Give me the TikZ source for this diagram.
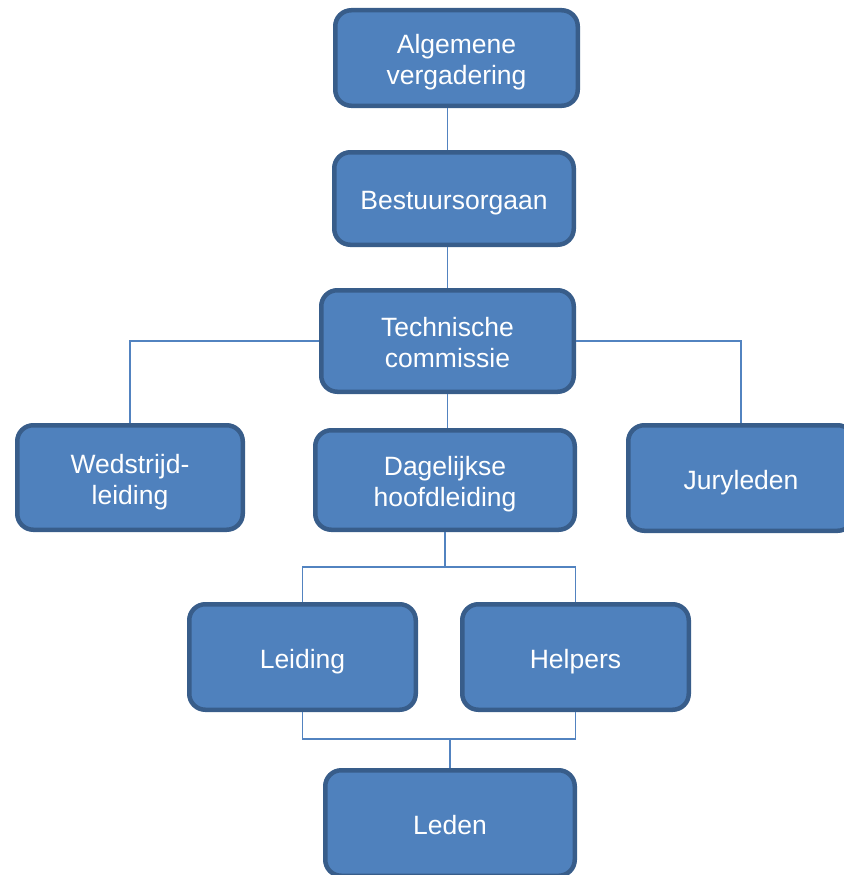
\documentclass[tikz,border=0pt]{standalone}
\usepackage{fontspec}
\setmainfont{Liberation Sans}
\definecolor{boxfill}{HTML}{4F81BD}
\definecolor{boxedge}{HTML}{385D8A}
\definecolor{linkcol}{HTML}{5283C0}
\newcommand\lowtxt[1]{\raisebox{-5pt}[\height][\depth]{\begin{tabular}{@{}c@{}}#1\end{tabular}}}
\begin{document}
\begin{tikzpicture}[x=1pt,y=1pt,
  orgbox/.style={draw=boxedge, fill=boxfill, line width=4.5pt, rounded corners=16pt,
    text=white, align=center, inner sep=0pt,
    font=\fontsize{26.5}{31}\selectfont},
  link/.style={draw=linkcol, line width=1.6pt}]
\useasboundingbox (0,0) rectangle (843,-875);
% nodes
\node[orgbox, minimum width=242.5, minimum height=95.5] (alg) at (456.5,-58) {\lowtxt{Algemene\\vergadering}};
\node[orgbox, minimum width=239.5, minimum height=92.5] (bes) at (454,-198.5) {\lowtxt{Bestuursorgaan}};
\node[orgbox, minimum width=252.5, minimum height=101.5] (tech) at (447.5,-341) {\lowtxt{Technische\\commissie}};
\node[orgbox, minimum width=225.5, minimum height=104.5] (wed) at (130,-477.5) {\lowtxt{Wedstrijd-\\leiding}};
\node[orgbox, minimum width=259.5, minimum height=99.5] (dag) at (445,-480) {\lowtxt{Dagelijkse\\hoofdleiding}};
\node[orgbox, minimum width=225.5, minimum height=105.5] (jury) at (741,-478) {\lowtxt{Juryleden}};
\node[orgbox, minimum width=226.5, minimum height=105.5] (lei) at (302.5,-657) {\lowtxt{Leiding}};
\node[orgbox, minimum width=226.5, minimum height=105.5] (hel) at (575.5,-657) {\lowtxt{Helpers}};
\node[orgbox, minimum width=249.5, minimum height=105.5] (led) at (450,-823) {\lowtxt{Leden}};
% junction coordinates
\coordinate (j1) at (445,-567);
\coordinate (j2) at (450,-739);
% connectors
\draw[link] (alg.south -| tech.north) -- (bes.north -| tech.north);
\draw[link] (bes.south -| tech.north) -- (tech.north);
\draw[link] (tech.south) -- (dag.north -| tech.south);
\draw[link] (tech.west) -| (wed.north);
\draw[link] (tech.east) -| (jury.north);
\draw[link] (dag.south) -- (j1);
\draw[link] (lei.north) -- (lei.north |- j1) -- (hel.north |- j1) -- (hel.north);
\draw[link] (lei.south) -- (lei.south |- j2) -- (hel.south |- j2) -- (hel.south);
\draw[link] (led.north) -- (j2);
\end{tikzpicture}
\end{document}
